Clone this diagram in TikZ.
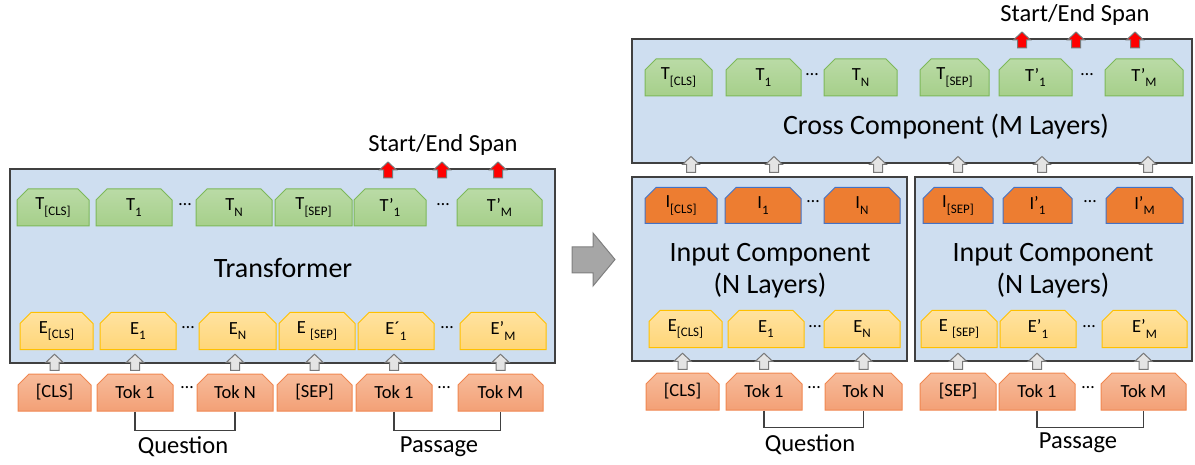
\documentclass[tikz,border=0pt]{standalone}
\usepackage{fontspec}
\setmainfont{Carlito}
\usetikzlibrary{shapes.misc}

\definecolor{panel}{RGB}{206,222,240}
\definecolor{panelline}{RGB}{64,64,64}
\definecolor{tgreen}{RGB}{166,207,138}
\definecolor{tgreenlt}{RGB}{186,219,166}
\definecolor{tgreenline}{RGB}{125,184,90}
\definecolor{eyellow}{RGB}{255,214,120}
\definecolor{eyellowlt}{RGB}{255,226,160}
\definecolor{eyellowline}{RGB}{255,192,0}
\definecolor{iorange}{RGB}{237,125,49}
\definecolor{iline}{RGB}{68,114,196}
\definecolor{toksalmon}{RGB}{243,160,118}
\definecolor{toksalmonlt}{RGB}{247,188,155}
\definecolor{tokline}{RGB}{240,135,80}
\definecolor{arrfill}{RGB}{228,228,228}
\definecolor{arrline}{RGB}{120,120,120}
\definecolor{bigarrfill}{RGB}{166,166,166}
\definecolor{bigarrline}{RGB}{127,127,127}

\newcommand\lo[1]{\raisebox{-0.3em}{\fontsize{13}{13}\selectfont #1}}

\tikzset{
  box/.style={chamfered rectangle,
    chamfered rectangle corners={north west,north east},
    chamfered rectangle sep=5.5pt, inner sep=0pt, minimum height=37pt,
    font=\fontsize{18.5}{22}\selectfont, line width=1pt},
  tbox/.style={box, draw=tgreenline, top color=tgreenlt, bottom color=tgreen},
  ebox/.style={box, draw=eyellowline, top color=eyellowlt, bottom color=eyellow},
  ibox/.style={box, draw=iline, fill=iorange},
  tokbox/.style={box, draw=tokline, top color=toksalmonlt, bottom color=toksalmon},
  panelbox/.style={rectangle, draw=panelline, fill=panel, line width=1.5pt, inner sep=0pt},
  dots/.style={font=\fontsize{18}{20}\selectfont},
  big/.style={font=\fontsize{28}{32}\selectfont, align=center},
  lbl/.style={font=\fontsize{24.5}{26}\selectfont},
  spanlbl/.style={font=\fontsize{24.5}{26}\selectfont},
  brace/.style={draw=panelline, line width=1.2pt},
  grayup/.style={draw=arrline, fill=arrfill, line width=1pt},
  redup/.style={draw=arrline, fill=red, line width=1pt},
  blockup/.pic={\path[pic actions] (0,-8) -- (8.5,0) -- (4.5,0) -- (4.5,8)
      -- (-4.5,8) -- (-4.5,0) -- (-8.5,0) -- cycle;},
}

\begin{document}
\begin{tikzpicture}[x=1pt, y=-1pt]
\useasboundingbox (0,0) rectangle (1195,465);

% ---- left: single transformer
\node[panelbox, minimum width=545pt, minimum height=194pt] (lpanel) at (282.5,266) {};
\node[big] (ltrans) at (283,268) {Transformer};

\node[tbox, minimum width=72pt] (lTcls) at (53,207.5) {T\lo{[CLS]}};
\node[tbox, minimum width=76pt] (lT1) at (134,207.5) {T\lo{1}};
\node[tbox, minimum width=76pt] (lTN) at (234,207.5) {T\lo{N}};
\node[tbox, minimum width=77pt] (lTsep) at (313.5,207.5) {T\lo{[SEP]}};
\node[tbox, minimum width=72pt] (lTp1) at (390,207.5) {T’\lo{1}};
\node[tbox, minimum width=85pt] (lTpM) at (499.5,207.5) {T’\lo{M}};
\node[dots] (ldT1) at (185,205) {…};
\node[dots] (ldT2) at (443,205) {…};

\node[ebox, minimum width=73pt] (lEcls) at (56.5,331) {E\lo{[CLS]}};
\node[ebox, minimum width=76pt] (lE1) at (138,331) {E\lo{1}};
\node[ebox, minimum width=77pt] (lEN) at (237.5,331) {E\lo{N}};
\node[ebox, minimum width=76pt] (lEsep) at (317,331) {E \lo{[SEP]}};
\node[ebox, minimum width=76pt] (lEp1) at (396,331) {E´\lo{1}};
\node[ebox, minimum width=86pt] (lEpM) at (503,331) {E’\lo{M}};
\node[dots] (ldE1) at (188,328) {…};
\node[dots] (ldE2) at (447,328) {…};

\node[tokbox, minimum width=73pt] (lCls) at (54.5,392.5) {[CLS]};
\node[tokbox, minimum width=76pt] (lTok1) at (135,392.5) {Tok 1};
\node[tokbox, minimum width=76pt] (lTokN) at (235,392.5) {Tok N};
\node[tokbox, minimum width=75pt] (lSep) at (314.5,392.5) {[SEP]};
\node[tokbox, minimum width=76pt] (lTokP1) at (394,392.5) {Tok 1};
\node[tokbox, minimum width=85pt] (lTokM) at (500.5,392.5) {Tok M};
\node[dots] (ldK1) at (187,388) {…};
\node[dots] (ldK2) at (444,388) {…};

\foreach \t in {lCls,lTok1,lTokN,lSep,lTokP1,lTokM}
  \pic[grayup] at ([yshift=1.5pt]\t.north |- lpanel.south) {blockup};

\pic[redup] at (388,170) {blockup};
\pic[redup] at (442,170) {blockup};
\pic[redup] at (498,170) {blockup};
\node[spanlbl] (lspan) at (443,145) {Start/End Span};

\draw[brace] (lTok1.south) -- ++(0,19) -| (lTokN.south);
\draw[brace] (lTokP1.south) -- ++(0,19) -| (lTokM.south);
\node[lbl] (lquest) at (183,447) {Question};
\node[lbl] (lpass) at (439,447) {Passage};

% ---- arrow between the two
\draw[draw=bigarrline, fill=bigarrfill, line width=1pt]
  (572,247) -- (593,247) -- (593,233) -- (615,259.5) -- (593,286)
  -- (593,273) -- (572,273) -- cycle;

% ---- right: input + cross components
\node[panelbox, minimum width=560pt, minimum height=124pt] (cross) at (912,101) {};
\node[panelbox, minimum width=275pt, minimum height=184pt] (inq) at (769.5,269) {};
\node[panelbox, minimum width=277pt, minimum height=184pt] (inp) at (1053.5,269) {};
\node[big] (crosstxt) at (946,127) {Cross Component (M Layers)};
\node[big] (inqtxt) at (770,271) {Input Component\\(N Layers)};
\node[big] (inptxt) at (1053,271) {Input Component\\(N Layers)};

\node[tbox, minimum width=67pt] (rTcls) at (678.5,77.5) {T\lo{[CLS]}};
\node[tbox, minimum width=75pt] (rT1) at (763.5,77.5) {T\lo{1}};
\node[tbox, minimum width=73pt] (rTN) at (860.5,77.5) {T\lo{N}};
\node[tbox, minimum width=69pt] (rTsep) at (954.5,77.5) {T\lo{[SEP]}};
\node[tbox, minimum width=73pt] (rTp1) at (1035.5,77.5) {T’\lo{1}};
\node[tbox, minimum width=78pt] (rTpM) at (1144,77.5) {T’\lo{M}};
\node[dots] (rdT1) at (812,75) {…};
\node[dots] (rdT2) at (1087,75) {…};

\node[ibox, minimum width=72pt, minimum height=36pt] (rIcls) at (681,205.5) {I\lo{[CLS]}};
\node[ibox, minimum width=76pt, minimum height=36pt] (rI1) at (763,205.5) {I\lo{1}};
\node[ibox, minimum width=76pt, minimum height=36pt] (rIN) at (862,205.5) {I\lo{N}};
\node[ibox, minimum width=70pt, minimum height=36pt] (rIsep) at (958,205.5) {I\lo{[SEP]}};
\node[ibox, minimum width=69pt, minimum height=36pt] (rIp1) at (1037.5,205.5) {I’\lo{1}};
\node[ibox, minimum width=77pt, minimum height=36pt] (rIpM) at (1144.5,205.5) {I’\lo{M}};
\node[dots] (rdI1) at (813,202) {…};
\node[dots] (rdI2) at (1090,202) {…};

\node[ebox, minimum width=73pt] (rEcls) at (685.5,329) {E\lo{[CLS]}};
\node[ebox, minimum width=76pt] (rE1) at (766,329) {E\lo{1}};
\node[ebox, minimum width=76pt] (rEN) at (862,329) {E\lo{N}};
\node[ebox, minimum width=76pt] (rEsep) at (959,329) {E \lo{[SEP]}};
\node[ebox, minimum width=76pt] (rEp1) at (1038,329) {E’\lo{1}};
\node[ebox, minimum width=85pt] (rEpM) at (1144.5,329) {E’\lo{M}};
\node[dots] (rdE1) at (815,327) {…};
\node[dots] (rdE2) at (1089,327) {…};

\node[tokbox, minimum width=73pt] (rCls) at (682.5,391.5) {[CLS]};
\node[tokbox, minimum width=76pt] (rTok1) at (764,391.5) {Tok 1};
\node[tokbox, minimum width=77pt] (rTokN) at (863.5,391.5) {Tok N};
\node[tokbox, minimum width=76pt] (rSep) at (958,391.5) {[SEP]};
\node[tokbox, minimum width=76pt] (rTokP1) at (1037,391.5) {Tok 1};
\node[tokbox, minimum width=85pt] (rTokM) at (1143.5,391.5) {Tok M};
\node[dots] (rdK1) at (814,388) {…};
\node[dots] (rdK2) at (1088,388) {…};

\foreach \t in {rCls,rTok1,rTokN,rSep,rTokP1,rTokM}
  \pic[grayup] at ([yshift=0.5pt]\t.north |- inq.south) {blockup};
\foreach \x in {691,774,878,958,1042,1148}
  \pic[grayup] at (\x,164.5) {blockup};

\pic[redup] at (1022,40) {blockup};
\pic[redup] at (1076,40) {blockup};
\pic[redup] at (1135,40) {blockup};
\node[spanlbl] (rspan) at (1075,15) {Start/End Span};

\draw[brace] (rTok1.south) -- ++(0,17) -| (rTokN.south);
\draw[brace] (rTokP1.south) -- ++(0,17) -| (rTokM.south);
\node[lbl] (rquest) at (810,445) {Question};
\node[lbl] (rpass) at (1078,443) {Passage};
\end{tikzpicture}
\end{document}
